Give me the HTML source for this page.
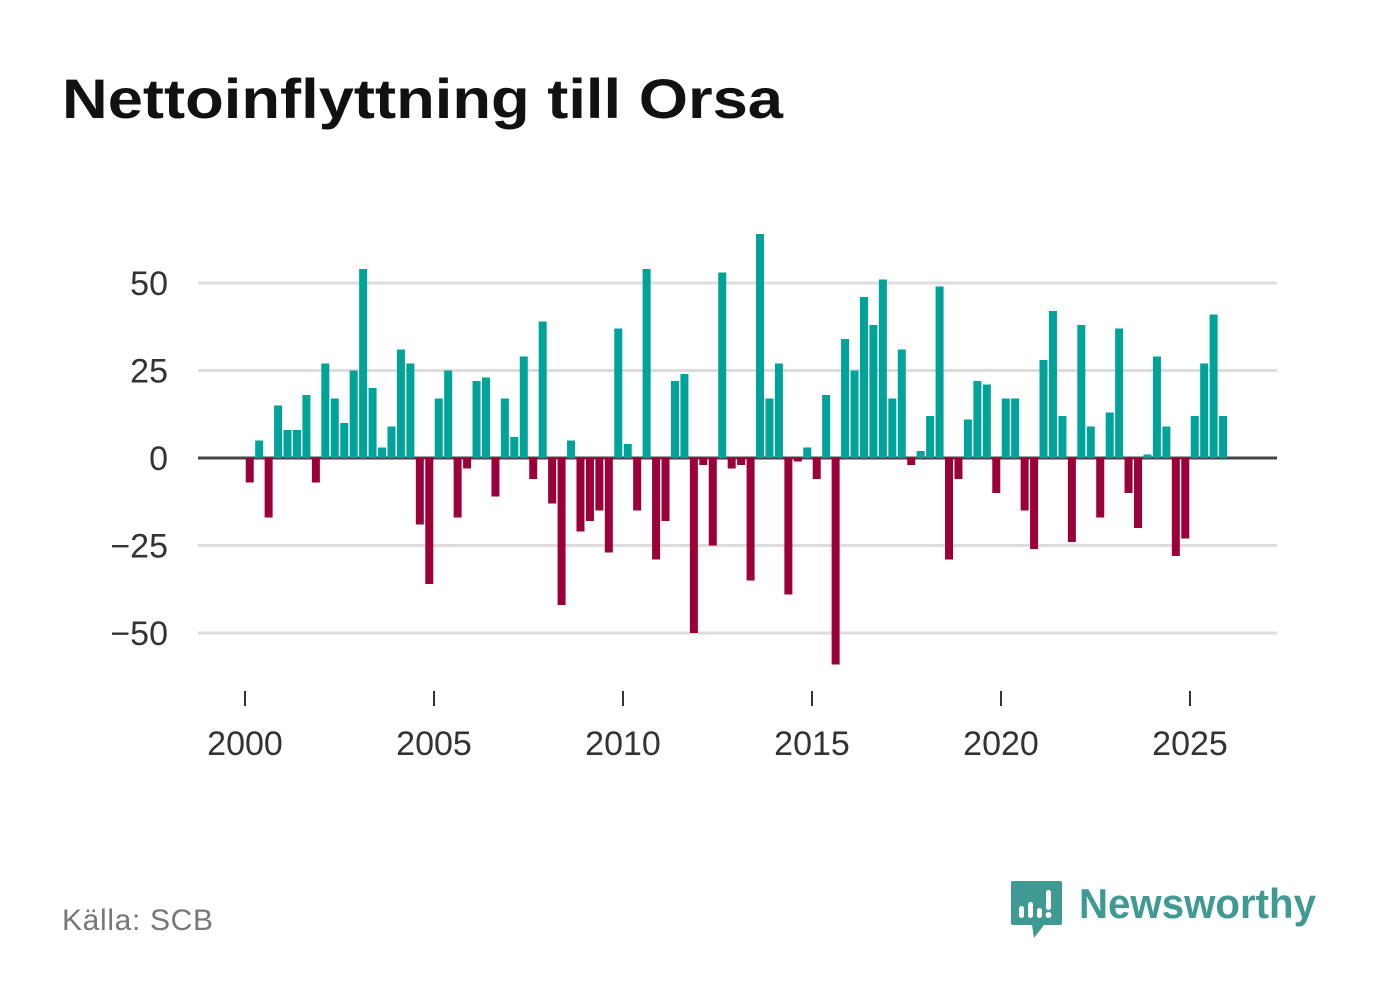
<!DOCTYPE html>
<html><head><meta charset="utf-8"><style>
body{margin:0;width:1382px;height:999px;background:#fff;font-family:"Liberation Sans",sans-serif;overflow:hidden}
</style></head><body>
<svg width="1382" height="999" xmlns="http://www.w3.org/2000/svg">
<text x="62" y="118" font-size="56" font-weight="bold" fill="#111" textLength="721" lengthAdjust="spacingAndGlyphs" font-family="Liberation Sans, sans-serif">Nettoinflyttning till Orsa</text>
<g id="grid"></g><g id="bars"></g><g id="xaxis"></g>
<text x="62" y="930" font-size="30" fill="#777" textLength="151">Källa: SCB</text>
<g>
<path d="M1013 881 h47 a2 2 0 0 1 2 2 v40 a2 2 0 0 1 -2 2 h-16 l-10 13 l-2 -13 h-19 a2 2 0 0 1 -2 -2 v-40 a2 2 0 0 1 2 -2z" fill="#3f9a94"/>
<rect x="1019" y="906" width="5" height="12" rx="2.5" fill="#fff"/><rect x="1028" y="902" width="5" height="16" rx="2.5" fill="#fff"/><rect x="1037" y="908" width="5" height="10" rx="2.5" fill="#fff"/><rect x="1046" y="890" width="5" height="20" rx="2.5" fill="#fff"/><circle cx="1048.5" cy="915" r="3" fill="#fff"/>
<text x="1079" y="918" font-size="42" font-weight="bold" fill="#3f9a94" textLength="237" lengthAdjust="spacingAndGlyphs">Newsworthy</text>
</g>
</svg>
<script>
const values=[-7,5,-17,15,8,8,18,-7,27,17,10,25,54,20,3,9,31,27,-19,-36,17,25,-17,-3,22,23,-11,17,6,29,-6,39,-13,-42,5,-21,-18,-15,-27,37,4,-15,54,-29,-18,22,24,-50,-2,-25,53,-3,-2,-35,64,17,27,-39,-1,3,-6,18,-59,34,25,46,38,51,17,31,-2,2,12,49,-29,-6,11,22,21,-10,17,17,-15,-26,28,42,12,-24,38,9,-17,13,37,-10,-20,1,29,9,-28,-23,12,27,41,12];
const startYear=2000;
const yTicks=[50,25,0,-25,-50];
const yTickLabels=["50","25","0","\u221225","\u221250"];
const xTicks=[2000,2005,2010,2015,2020,2025];
const NS="http://www.w3.org/2000/svg";
const xs=t=>245+(t-2000)*37.8;
const ys=v=>458-v*3.5;
const g=document.getElementById('grid'),b=document.getElementById('bars'),xa=document.getElementById('xaxis');
function mk(tag,at,p){const e=document.createElementNS(NS,tag);for(const k in at)e.setAttribute(k,at[k]);p.appendChild(e);return e;}
yTicks.forEach((v,i)=>{
 const l=mk('line',{x1:198,x2:1277,y1:ys(v),y2:ys(v),stroke:v===0?'#444':'#ddd','stroke-width':3},g);
 
 
 const t=mk('text',{x:168,y:ys(v)+12,'text-anchor':'end','font-size':34,fill:'#333'},g);
 t.textContent=yTickLabels[i];
 
 
});
values.forEach((v,i)=>{
 const cx=xs(startYear+(i+0.5)/4);
 const y0=ys(Math.max(v,0)),h=Math.abs(ys(v)-ys(0));
 const r=mk('rect',{x:cx-4,y:y0,width:8,height:h,fill:v>=0?'#00a39a':'#9b0039'},b);
 
 
});
xTicks.forEach(t=>{
 const l=mk('line',{x1:xs(t),x2:xs(t),y1:691,y2:706,stroke:'#333','stroke-width':2},xa);
 
 
 const tx=mk('text',{x:xs(t),y:755,'text-anchor':'middle','font-size':34,fill:'#333'},xa);
 tx.textContent=t;
 
 
});
</script>
</body></html>
